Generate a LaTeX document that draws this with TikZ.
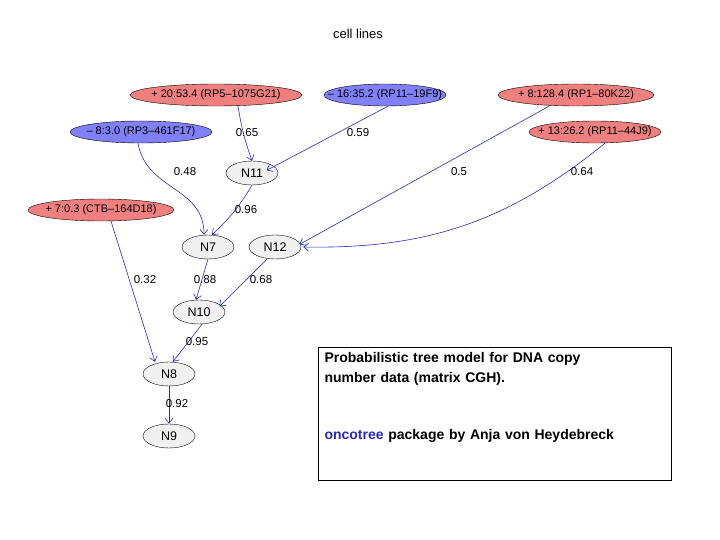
\documentclass[tikz,border=0pt]{standalone}
\usepackage{fontspec}
\setmainfont{Liberation Sans}
\usetikzlibrary{shapes.geometric,arrows.meta}
\definecolor{rd}{RGB}{240,128,128}
\definecolor{bl}{RGB}{128,128,250}
\definecolor{gr}{RGB}{240,240,240}
\definecolor{ln}{RGB}{40,40,190}
\newcommand{\zbx}[1]{\makebox[0pt]{#1}}
\begin{document}
\begin{tikzpicture}[x=1pt,y=-1pt,
 gene/.style={ellipse,draw,inner sep=0pt,minimum height=22,font=\fontsize{11}{12}\selectfont},
 nd/.style={ellipse,draw,fill=gr,minimum width=52,minimum height=24,inner sep=0pt,font=\fontsize{12.5}{13}\selectfont},
 ed/.style={draw=ln,-{Straight Barb[length=5pt,width=8pt]},semithick},
 lab/.style={font=\fontsize{11.5}{12}\selectfont}]
\useasboundingbox (0,0) rectangle (720,540);
\node[font=\fontsize{13}{14}\selectfont] (t) at (358,34) {cell lines};
\node[gene,fill=rd,minimum width=172] (A) at (216,95) {\zbx{+ 20:53.4 (RP5--1075G21)}};
\node[gene,fill=bl,minimum width=122] (B) at (385,95) {\zbx{-- 16:35.2 (RP11--19F9)}};
\node[gene,fill=rd,minimum width=156] (C) at (576,95) {\zbx{+ 8:128.4 (RP1--80K22)}};
\node[gene,fill=bl,minimum width=142] (D) at (141,132) {\zbx{-- 8:3.0 (RP3--461F17)}};
\node[gene,fill=rd,minimum width=132] (E) at (595,132) {\zbx{+ 13:26.2 (RP11--44J9)}};
\node[gene,fill=rd,minimum width=146] (F) at (101,210) {\zbx{+ 7:0.3 (CTB--164D18)}};
\node[nd] (N11) at (252,173) {N11};
\node[nd] (N7) at (208,247) {N7};
\node[nd] (N12) at (275,247) {N12};
\node[nd] (N10) at (199,312) {N10};
\node[nd] (N8) at (169,374) {N8};
\node[nd] (N9) at (169,436) {N9};
\draw[ed] ([xshift=22pt]A.south) to[bend right=5] (N11.north);
\draw[ed] ([xshift=3pt]B.south) -- ([xshift=-4pt,yshift=-6pt]N11.north east);
\draw[ed] ([xshift=-27pt]C.south) -- ([xshift=6pt,yshift=-6pt]N12.north east);
\draw[ed] ([xshift=10pt]E.south) to[bend left=20] ([xshift=2pt]N12.east);
\draw[ed] ([xshift=-3pt]D.south) to[out=-80,in=90,looseness=1.1] ([xshift=-4pt]N7.north);
\draw[ed] (N11.south) to[bend left=8] ([xshift=4pt]N7.north);
\draw[ed] ([xshift=10pt]F.south) -- ([xshift=-14pt]N8.north);
\draw[ed] (N7.south) -- ([xshift=-3pt]N10.north);
\draw[ed] ([xshift=-8pt]N12.south) -- ([xshift=2pt,yshift=-3pt]N10.north east);
\draw[ed] ([xshift=3pt]N10.south) -- ([xshift=4pt]N8.north);
\draw[ed] (N8.south) -- (N9.north);
\node[lab] (l1) at (247,133) {0.65};
\node[lab] (l2) at (358,133) {0.59};
\node[lab] (l3) at (185,172) {0.48};
\node[lab] (l4) at (459,172) {0.5};
\node[lab] (l5) at (582,172) {0.64};
\node[lab] (l6) at (246,210) {0.96};
\node[lab] (l7) at (145,280) {0.32};
\node[lab] (l8) at (205,280) {0.88};
\node[lab] (l9) at (261,280) {0.68};
\node[lab] (l10) at (197,342) {0.95};
\node[lab] (l11) at (177,404) {0.92};
\draw (318,347) rectangle (671,480);
\node[anchor=north west,align=left,text width=345,font=\fontsize{14}{20}\selectfont\bfseries] (txt) at (321,349)
{Probabilistic tree model for DNA copy\\number data (matrix CGH).\\[37pt]\textcolor{ln}{oncotree} package by Anja von Heydebreck};
\end{tikzpicture}
\end{document}
